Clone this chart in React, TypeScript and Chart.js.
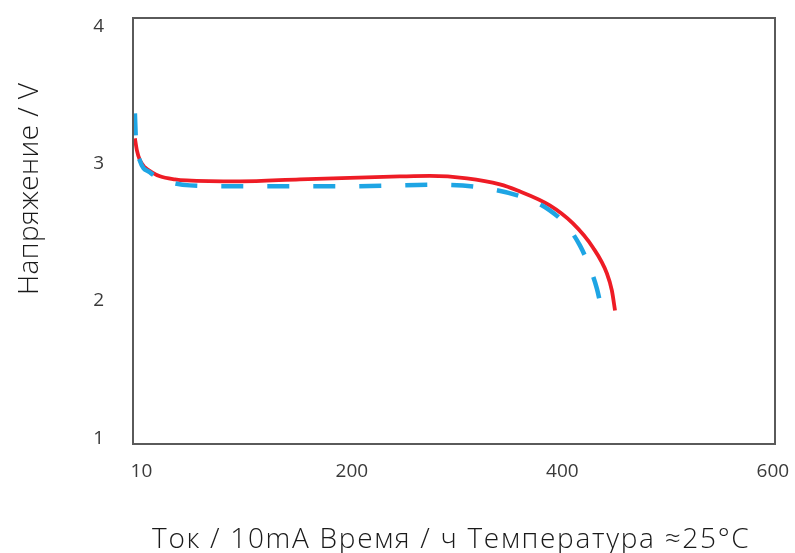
import React, { useEffect, useRef } from "react";
import { Chart, registerables } from "chart.js";

Chart.register(...registerables);

const xTickValues = [0, 200, 400, 600];
const xTickLabels = ["10", "200", "400", "600"];
const yTickValues = [1, 2, 3, 4];

const redX = [-6.2, -4.3, -1.4, 3.3, 10, 17.6, 31.8, 43, 93.6, 150.6, 198, 245.6, 274, 309.3, 340.6, 356.8, 388, 410, 429, 442.3, 447, 450];
const redY = [3.184, 3.097, 3.024, 2.973, 2.937, 2.908, 2.886, 2.878, 2.871, 2.886, 2.897, 2.907, 2.911, 2.893, 2.849, 2.806, 2.696, 2.565, 2.39, 2.201, 2.077, 1.932];

const blueX = [-6.2, -5.2, -1.4, 8, 22.3, 46, 103, 198, 277, 321.6, 366, 388, 404, 416.6, 426, 432.7, 437.5];
const blueY = [3.366, 3.17, 3.02, 2.937, 2.878, 2.842, 2.835, 2.835, 2.846, 2.827, 2.747, 2.66, 2.55, 2.405, 2.245, 2.092, 1.932];

const xTitle = "Ток / 10mA Время / ч Температура ≈25°C";
const yTitle = "Напряжение / V";

const boxPlugin = {
  id: "box",
  afterDraw(chart: any) {
    const { ctx, chartArea: a } = chart;
    ctx.save();
    ctx.strokeStyle = "#5a5a5a";
    ctx.lineWidth = 2;
    ctx.strokeRect(a.left, a.top, a.right - a.left, a.bottom - a.top);
    ctx.restore();
  },
};

const titlesPlugin = {
  id: "titles",
  afterDraw(chart: any) {
    const { ctx } = chart;
    ctx.save();
    ctx.fillStyle = "#1a1a1a";
    ctx.textAlign = "left";
    ctx.textBaseline = "alphabetic";
    ctx.font = '300 28px "Open Sans"';
    (ctx as any).letterSpacing = "1.7px";
    ctx.fillText(xTitle, 152, 548);
    ctx.translate(38, 295);
    ctx.rotate(-Math.PI / 2);
    ctx.font = '300 28px "Open Sans"';
    (ctx as any).letterSpacing = "0.4px";
    ctx.fillText(yTitle, 0, 0);
    ctx.restore();
  },
};

const zeroPad = (s: any) => {
  s.paddingTop = 0;
  s.paddingBottom = 0;
  s.paddingLeft = 0;
  s.paddingRight = 0;
};

export default function App() {
  const ref = useRef<HTMLCanvasElement>(null);
  useEffect(() => {
    const zip = (xs: number[], ys: number[]) => xs.map((x, i) => ({ x, y: ys[i] }));
    const chart = new Chart(ref.current!, {
      type: "line",
      data: {
        datasets: [
          {
            data: zip(blueX, blueY),
            borderColor: "#1ea5e4",
            borderWidth: 4.5,
            borderDash: [22, 24],
            pointRadius: 0,
            cubicInterpolationMode: "monotone",
            fill: false,
          },
          {
            data: zip(redX, redY),
            borderColor: "#ee1c25",
            borderWidth: 3.8,
            pointRadius: 0,
            cubicInterpolationMode: "monotone",
            fill: false,
          },
        ],
      },
      options: {
        animation: false,
        responsive: false,
        layout: { padding: { left: 0, right: 20, top: 18, bottom: 0 } },
        plugins: { legend: { display: false }, tooltip: { enabled: false } },
        scales: {
          x: {
            type: "linear",
            min: -8,
            max: 602,
            grid: { display: false, drawTicks: false },
            border: { display: false },
            afterBuildTicks: (s: any) => {
              s.ticks = xTickValues.map((v) => ({ value: v }));
            },
            afterFit: (s: any) => {
              s.height = 109;
              zeroPad(s);
            },
            ticks: {
              padding: 16,
              color: "#3a3a3a",
              font: { family: "Open Sans", size: 19 },
              maxRotation: 0,
              callback: (v: any) => {
                const i = xTickValues.indexOf(Number(v));
                return i >= 0 ? xTickLabels[i] : "";
              },
            },
            title: { display: false, text: xTitle },
          },
          y: {
            type: "linear",
            min: 0.96,
            max: 4.06,
            grid: { display: false, drawTicks: false },
            border: { display: false },
            afterBuildTicks: (s: any) => {
              s.ticks = yTickValues.map((v) => ({ value: v }));
            },
            afterFit: (s: any) => {
              s.width = 133;
              zeroPad(s);
            },
            ticks: {
              padding: 29,
              color: "#3a3a3a",
              font: { family: "Open Sans", size: 19 },
            },
            title: { display: false, text: yTitle },
          },
        },
      },
      plugins: [boxPlugin, titlesPlugin],
    } as any);
    return () => chart.destroy();
  }, []);
  return (
    <div style={{ position: "fixed", left: 0, top: 0, width: 795, height: 553, background: "#fff" }}>
      <canvas ref={ref} width={795} height={553} style={{ display: "block" }} />
    </div>
  );
}
